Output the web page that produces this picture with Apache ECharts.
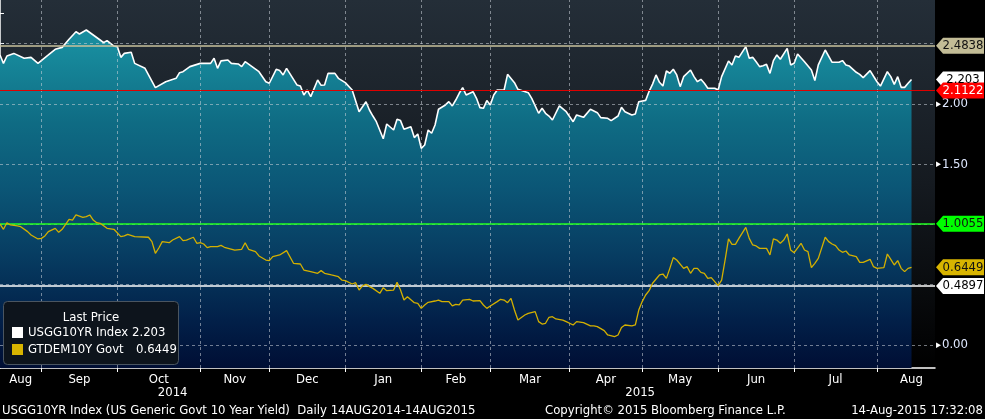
<!DOCTYPE html>
<html>
<head>
<meta charset="utf-8">
<style>html,body{margin:0;padding:0;background:#000;}#c{width:985px;height:419px;}</style>
<script src="https://cdn.jsdelivr.net/npm/echarts@6/dist/echarts.min.js"></script>
</head>
<body>
<div id="c"></div>
<script>
// ---- data (business-day index since 14-Aug-2014, value) ----
const usDay = [0,1,2,4,7,9,11,14,16,18,20,22,23,25,29,30,31,33,34,35,36,38,39,42,45,48,51,52,53,55,58,61,62,63,64,66,67,69,70,71,73,75,77,78,80,81,82,83,86,87,88,89,90,92,93,94,95,97,98,100,102,104,106,107,108,109,111,112,114,115,116,117,119,120,121,122,123,124,125,126,127,129,130,131,132,133,134,135,137,138,139,140,141,142,143,144,146,147,149,150,153,154,156,157,158,159,160,162,164,166,167,169,171,173,174,176,177,179,180,181,183,184,185,187,188,189,190,191,192,193,194,195,196,197,198,200,201,202,203,204,205,207,208,209,211,212,213,214,216,217,218,219,220,221,222,223,224,225,226,228,229,230,231,233,235,236,237,239,241,243,244,245,246,248,249,250,252,253,254,255,257,258,259,260,261,262,263,264];
const usYield = [2.407,2.337,2.398,2.420,2.379,2.387,2.337,2.407,2.454,2.470,2.537,2.600,2.581,2.614,2.531,2.509,2.526,2.481,2.476,2.387,2.420,2.429,2.337,2.296,2.136,2.185,2.213,2.260,2.268,2.310,2.337,2.337,2.379,2.296,2.358,2.365,2.337,2.332,2.310,2.351,2.310,2.268,2.185,2.172,2.288,2.277,2.241,2.296,2.158,2.150,2.075,2.116,2.061,2.199,2.155,2.158,2.254,2.254,2.213,2.177,2.116,1.936,2.019,1.950,1.900,1.853,1.712,1.834,1.784,1.873,1.862,1.790,1.812,1.721,1.751,1.632,1.660,1.784,1.757,1.826,1.956,1.992,2.019,1.984,2.033,2.089,2.136,2.075,2.102,2.047,1.970,1.964,2.028,1.992,2.075,2.116,2.116,2.246,2.177,2.122,2.094,2.047,1.923,1.964,1.923,1.900,1.867,1.984,1.936,1.853,1.909,1.889,1.956,1.928,1.887,1.881,1.862,1.900,1.972,1.936,1.909,1.917,2.019,2.030,2.105,2.165,2.241,2.180,2.149,2.274,2.255,2.288,2.241,2.144,2.227,2.282,2.227,2.185,2.205,2.172,2.130,2.130,2.116,2.227,2.357,2.324,2.398,2.387,2.476,2.379,2.387,2.351,2.310,2.318,2.329,2.254,2.360,2.407,2.371,2.462,2.324,2.338,2.415,2.351,2.282,2.194,2.324,2.448,2.346,2.346,2.360,2.324,2.315,2.263,2.246,2.219,2.277,2.230,2.185,2.149,2.268,2.227,2.163,2.227,2.138,2.138,2.172,2.203];
const deDay = [0,1,2,3,5,6,8,9,11,12,13,14,16,17,18,20,21,22,24,25,26,27,28,29,31,33,35,36,37,39,43,44,45,46,47,49,50,52,53,54,56,57,58,59,60,61,63,64,65,68,70,71,72,74,75,77,78,79,81,83,85,87,88,90,92,93,94,95,96,98,99,100,102,103,104,105,106,107,108,110,111,112,114,115,116,117,118,120,121,122,123,124,126,127,128,130,131,132,133,134,136,137,139,140,141,142,144,145,146,147,148,149,150,152,153,155,156,157,158,159,160,161,163,164,166,167,169,171,172,173,175,176,178,179,180,181,183,184,185,186,187,188,189,191,192,193,194,195,196,198,199,200,201,202,203,204,205,206,207,208,209,210,211,212,213,214,216,217,218,219,220,222,223,224,225,226,227,228,229,230,232,233,234,235,236,237,239,240,241,242,243,244,245,246,248,249,250,252,253,254,256,257,258,259,260,261,262,263,264];
const deYield = [1.004,0.960,1.015,0.996,0.988,0.982,0.941,0.913,0.880,0.885,0.905,0.941,0.968,0.935,0.960,1.043,1.037,1.079,1.059,1.065,1.079,1.037,1.015,1.010,0.968,0.960,0.899,0.905,0.918,0.899,0.894,0.858,0.761,0.805,0.858,0.849,0.871,0.899,0.866,0.871,0.894,0.844,0.849,0.838,0.808,0.816,0.816,0.827,0.811,0.788,0.794,0.849,0.794,0.775,0.739,0.705,0.700,0.733,0.747,0.783,0.678,0.672,0.622,0.609,0.595,0.617,0.595,0.589,0.581,0.567,0.539,0.534,0.506,0.517,0.456,0.490,0.503,0.484,0.470,0.429,0.476,0.451,0.456,0.520,0.456,0.373,0.401,0.351,0.346,0.304,0.332,0.354,0.365,0.373,0.360,0.360,0.324,0.337,0.332,0.373,0.379,0.365,0.368,0.332,0.304,0.324,0.360,0.379,0.373,0.351,0.387,0.290,0.207,0.249,0.263,0.277,0.194,0.174,0.180,0.230,0.235,0.216,0.207,0.194,0.166,0.194,0.185,0.158,0.158,0.152,0.119,0.083,0.069,0.083,0.145,0.166,0.158,0.166,0.290,0.360,0.415,0.451,0.512,0.581,0.589,0.553,0.636,0.725,0.705,0.636,0.650,0.595,0.636,0.636,0.603,0.595,0.553,0.559,0.526,0.492,0.539,0.705,0.880,0.835,0.835,0.885,0.976,0.885,0.830,0.822,0.802,0.802,0.747,0.880,0.871,0.844,0.871,0.921,0.788,0.766,0.844,0.788,0.775,0.642,0.678,0.719,0.894,0.858,0.838,0.824,0.788,0.769,0.780,0.747,0.733,0.686,0.686,0.711,0.650,0.636,0.642,0.755,0.711,0.664,0.700,0.636,0.609,0.636,0.645];

const monthNames = ['Aug','Sep','Oct','Nov','Dec','Jan','Feb','Mar','Apr','May','Jun','Jul','Aug'];
const monthStartIdx = [12,34,58,78,100,122,142,165,186,208,230,254];
const yearNames = ['2014','2015'];
const yearStartIdx = [0,100];
const yTickValues = [0,0.25,0.5,0.75,1,1.25,1.5,1.75,2,2.25,2.5,2.75];
const yLabelValues = [0,1.5,2];
const yGridValues = [0,0.5,1,1.5,2,2.5];
const refLines = {high: 2.4838, avg: 2.1122, deHigh: 1.0055, deLow: 0.4897};
const lastPrice = {us: 2.203, de: 0.6449};
const seriesNames = ['USGG10YR Index','GTDEM10Y Govt'];

// ---- layout ----
const X_MAX = 270.8, AXIS_END = 274;
const Y_MIN = -0.191, Y_MAX = 2.863;
const FONT = "'DejaVu Sans Condensed','Liberation Sans Narrow',sans-serif";

const bounds = [0].concat(monthStartIdx, [AXIS_END]);
const monthLabelPos = monthNames.map((n, i) => (bounds[i] + bounds[i + 1]) / 2);
const yearLabelPos = [(yearStartIdx[0] + yearStartIdx[1]) / 2, (yearStartIdx[1] + X_MAX) / 2];

const zip = (a, b) => a.map((d, i) => [d, b[i]]);

const chart = echarts.init(document.getElementById('c'));
const gridDash = {color: 'rgba(205,212,218,0.55)', width: 1, type: [3, 3]};

function tag(v, bg, fg) {
  return {coord: [X_MAX, v], value: v, itemStyle: {color: bg}, label: {color: fg}};
}
const tagStyle = {
  symbol: 'path://M0,8L7,0L48,0L48,16L7,16Z',
  symbolSize: [48, 16],
  symbolOffset: [25, 0],
  silent: true,
  label: {show: true, position: 'inside', offset: [3, 0], fontSize: 13, fontFamily: FONT,
          formatter: p => String(p.value)}
};

const txt = (x, y, s, extra) => Object.assign({type: 'text', x: x, y: y, z: 100, silent: true,
  style: {text: s, fill: '#ffffff', font: '13px ' + FONT, verticalAlign: 'middle'}}, extra || {});

const option = {
  backgroundColor: '#000',
  animation: false,
  grid: {left: 0, right: 50, top: 0, bottom: 51, show: true, borderWidth: 0,
    backgroundColor: new echarts.graphic.LinearGradient(0, 0, 0, 1, [
      {offset: 0, color: '#242e38'}, {offset: 0.5, color: '#151a20'}, {offset: 1, color: '#000000'}])},
  xAxis: [{
    type: 'value', min: 0, max: X_MAX,
    axisLine: {show: true, onZero: false, lineStyle: {color: '#ffffff', width: 1.5}},
    axisTick: {show: true, customValues: monthStartIdx, length: 4, lineStyle: {color: '#ffffff'}},
    axisLabel: {customValues: monthLabelPos, color: '#ffffff', fontSize: 13, fontFamily: FONT, margin: 5,
      formatter: v => monthNames[monthLabelPos.indexOf(v)] || ''},
    splitLine: {show: false}
  }, {
    type: 'value', min: 0, max: X_MAX, position: 'bottom', offset: 15,
    axisLine: {show: false},
    axisTick: {show: true, customValues: [yearStartIdx[1]], length: 20, lineStyle: {color: '#5a5a5a'}},
    axisLabel: {customValues: yearLabelPos, color: '#ffffff', fontSize: 13, fontFamily: FONT, margin: 3,
      formatter: v => yearNames[yearLabelPos.indexOf(v)] || ''},
    splitLine: {show: false}
  }],
  yAxis: {
    type: 'value', position: 'right', min: Y_MIN, max: Y_MAX,
    axisLine: {show: true, lineStyle: {color: '#ffffff', width: 1.5}},
    axisTick: {show: true, customValues: yTickValues, length: 4, lineStyle: {color: '#ffffff'}},
    axisLabel: {customValues: yLabelValues, margin: 1, fontFamily: FONT,
      formatter: v => '{p|▸}{v|' + v.toFixed(2) + '}',
      rich: {p: {color: '#ffffff', fontSize: 11, padding: [0, 1, 0, 0]},
             v: {color: '#dfe8ff', fontSize: 13, fontFamily: FONT}}},
    splitLine: {show: false}
  },
  series: [{
    name: 'grid', type: 'line', data: [], silent: true, z: 4,
    markLine: {symbol: 'none', silent: true, label: {show: false}, lineStyle: gridDash,
      data: yGridValues.map(v => ({yAxis: v})).concat(monthStartIdx.map(v => ({xAxis: v})))}
  }, {
    name: seriesNames[0], type: 'line', data: zip(usDay, usYield), showSymbol: false, symbol: 'none',
    clip: false, z: 3,
    lineStyle: {color: '#ffffff', width: 1.6},
    areaStyle: {origin: 'start', opacity: 1,
      color: new echarts.graphic.LinearGradient(0, 0, 0, 368, [
        {offset: 0, color: '#1b93a4'}, {offset: 0.14, color: '#178a9c'}, {offset: 0.33, color: '#0f6c84'},
        {offset: 0.51, color: '#0b5676'}, {offset: 0.69, color: '#073d62'}, {offset: 0.87, color: '#022049'},
        {offset: 1, color: '#000e34'}], true)},
    markLine: {symbol: 'none', silent: true, label: {show: false},
      data: [{yAxis: refLines.high, lineStyle: {color: '#c8c29c', width: 1.5, type: 'solid'}},
             {yAxis: refLines.avg, lineStyle: {color: '#e00000', width: 1, type: 'solid'}}]},
    markPoint: Object.assign({}, tagStyle, {data: [
      tag(refLines.high, '#c2bc96', '#111111'),
      tag(lastPrice.us, '#ffffff', '#000000'),
      tag(refLines.avg, '#ff0000', '#ffffff')]})
  }, {
    name: seriesNames[1], type: 'line', data: zip(deDay, deYield), showSymbol: false, symbol: 'none',
    clip: false, z: 5,
    lineStyle: {color: '#d4b000', width: 1.3},
    markLine: {symbol: 'none', silent: true, label: {show: false},
      data: [{yAxis: refLines.deHigh, lineStyle: {color: '#22ff22', width: 1.5, type: 'solid'}},
             {yAxis: refLines.deLow, lineStyle: {color: '#ffffff', width: 1.5, type: 'solid'}}]},
    markPoint: Object.assign({}, tagStyle, {data: [
      tag(refLines.deHigh, '#00ff00', '#111111'),
      tag(lastPrice.de, '#d8b400', '#111111'),
      tag(refLines.deLow, '#ffffff', '#000000')]})
  }],
  graphic: [
    {type: 'rect', z: 100, silent: true, shape: {x: 3.5, y: 301.5, width: 175, height: 63, r: 4},
     style: {fill: '#0d141c', stroke: '#4a5560', lineWidth: 1}},
    txt(91, 318, 'Last Price', {style: {text: 'Last Price', fill: '#ffffff', font: '13px ' + FONT, verticalAlign: 'middle', align: 'center'}}),
    {type: 'rect', z: 100, silent: true, shape: {x: 12, y: 327, width: 11, height: 11}, style: {fill: '#ffffff'}},
    txt(28, 333, seriesNames[0]),
    txt(132, 333, String(lastPrice.us)),
    {type: 'rect', z: 100, silent: true, shape: {x: 12, y: 344, width: 11, height: 11}, style: {fill: '#d8b400'}},
    txt(28, 350, seriesNames[1]),
    txt(136, 350, String(lastPrice.de)),
    txt(2, 411, 'USGG10YR Index (US Generic Govt 10 Year Yield)  Daily 14AUG2014-14AUG2015'),
    txt(545, 411, 'Copyright\u00a9 2015 Bloomberg Finance L.P.'),
    txt(983, 411, '14-Aug-2015 17:32:08', {style: {text: '14-Aug-2015 17:32:08', fill: '#ffffff', font: '13px ' + FONT, verticalAlign: 'middle', align: 'right'}})
  ]
};
chart.setOption(option);
</script>
</body>
</html>
